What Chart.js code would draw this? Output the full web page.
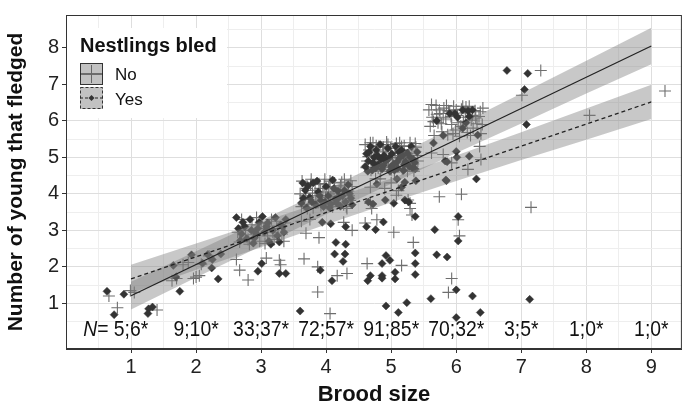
<!DOCTYPE html>
<html>
<head>
<meta charset="utf-8">
<script src="https://cdn.jsdelivr.net/npm/chart.js@4.4.0/dist/chart.umd.min.js"></script>
<style>
  body { margin: 0; background: #fff; }
  #wrap { width: 689px; height: 408px; }
</style>
</head>
<body>
<div id="wrap"><canvas id="brood" width="689" height="408"></canvas></div>
<script>
var family = '"Liberation Sans", Arial, sans-serif';

// tick labels
var xTicks = [1, 2, 3, 4, 5, 6, 7, 8, 9];
var yTicks = [1, 2, 3, 4, 5, 6, 7, 8];

// sample sizes per brood size (not bled ; bled)
var nLabels = ["5;6*", "9;10*", "33;37*", "72;57*", "91;85*", "70;32*", "3;5*", "1;0*", "1;0*"];

// fitted lines, read at brood size 1 and 9
var lineX = [1, 9];
var noLine = [1.21, 8.05];
var yesLine = [1.67, 6.52];

// confidence bands, read at each brood size
var bandX = [1, 2, 3, 4, 5, 6, 7, 8, 9];
var noLow = [0.83, 1.71, 2.57, 3.44, 4.28, 5.12, 5.93, 6.75, 7.55];
var noHigh = [1.59, 2.43, 3.27, 4.12, 4.98, 5.86, 6.75, 7.65, 8.55];
var yesLow = [1.28, 1.92, 2.54, 3.16, 3.76, 4.35, 4.93, 5.48, 6.05];
var yesHigh = [2.06, 2.64, 3.22, 3.82, 4.42, 5.05, 5.69, 6.34, 6.99];

// nests, [brood size (jittered), young fledged (jittered)]
var noPoints = [
  [0.66,1.2],[0.79,0.88],[0.99,1.35],[1.05,1.3],[1.4,0.82],
  [1.8,2.06],[1.63,1.62],[1.7,1.68],[1.96,1.68],[2.0,1.72],[2.05,1.76],[2.08,2.07],[2.2,2.3],[1.88,2.12],
  [2.64,2.95],[2.7,3.3],[2.8,2.75],[2.86,3.15],[2.93,3.35],[2.98,2.7],[3.04,3.05],[3.1,2.85],[3.16,3.3],
  [3.2,2.75],[3.26,3.05],[3.32,2.9],[3.37,3.2],[2.76,3.0],[2.9,2.88],[3.0,3.2],[3.13,3.12],[3.24,3.25],
  [2.67,2.68],[3.35,2.7],[2.82,2.62],[3.06,2.64],[2.72,3.12],[3.18,2.95],
  [2.67,1.91],[2.8,1.64],[3.08,2.24],[3.28,2.18],[3.3,2.06],[2.62,2.2],
  [3.6,4.0],[3.63,4.35],[3.66,3.7],[3.7,4.15],[3.73,3.85],[3.77,4.4],[3.8,3.62],[3.83,4.1],[3.86,3.95],
  [3.89,4.28],[3.92,3.68],[3.95,4.05],[3.98,4.4],[4.01,3.8],[4.04,4.18],[4.07,3.92],[4.1,3.65],[4.13,4.3],
  [4.16,4.0],[4.19,3.75],[4.22,4.22],[4.25,3.88],[4.28,4.4],[4.31,3.65],[4.34,4.08],[4.37,3.82],[4.4,4.2],
  [3.68,3.95],[3.76,4.25],[3.84,3.78],[3.91,4.15],[3.99,3.9],[4.06,4.35],[4.12,3.85],[4.2,4.1],[4.27,3.7],
  [4.35,3.95],[3.62,3.65],[3.97,4.25],[4.24,4.32],[3.79,4.02],[4.09,4.05],[4.32,3.6],[4.38,4.36],[3.71,3.6],
  [3.69,2.92],[3.89,2.8],[3.66,2.22],[3.87,2.0],[4.17,1.76],[4.32,1.82],[3.87,1.31],[4.06,0.72],
  [4.27,3.22],[3.62,3.25],[4.4,3.0],[3.75,3.3],
  [4.6,5.35],[4.63,4.9],[4.66,5.2],[4.69,4.65],[4.72,5.4],[4.75,5.05],[4.78,4.8],[4.81,5.3],[4.84,4.62],
  [4.87,5.15],[4.9,4.95],[4.93,5.42],[4.96,4.72],[4.99,5.25],[5.02,5.0],[5.05,4.6],[5.08,5.38],[5.11,4.85],
  [5.14,5.18],[5.17,4.68],[5.2,5.32],[5.23,4.98],[5.26,4.78],[5.29,5.4],[5.32,5.1],[5.35,4.62],[5.38,5.28],
  [5.41,4.9],[4.62,4.72],[4.7,5.12],[4.77,5.32],[4.85,4.88],[4.92,5.2],[5.0,4.66],[5.06,5.12],[5.13,5.4],
  [5.19,4.92],[5.27,5.2],[5.34,4.82],[5.4,5.05],[4.65,5.02],[4.8,4.7],[4.95,5.35],[5.1,5.05],[5.25,4.62],
  [5.37,5.38],[4.74,4.85],[4.88,5.28],[5.03,4.8],[5.16,5.3],[5.3,4.92],[4.68,5.4],[5.21,4.75],
  [4.76,4.41],[4.68,4.18],[4.83,4.41],[5.11,4.09],[5.08,3.96],[5.26,3.83],[5.29,3.74],[5.32,3.42],
  [4.68,3.74],[4.7,3.6],[4.6,3.2],[4.78,3.29],[5.04,2.95],[5.34,2.67],[4.63,2.09],[5.16,2.04],
  [5.29,3.6],[5.0,4.3],[4.9,4.15],
  [5.58,6.3],[5.6,5.85],[5.63,6.1],[5.66,5.6],[5.69,6.42],[5.72,5.95],[5.75,6.2],[5.78,5.7],[5.81,6.35],
  [5.84,6.05],[5.87,5.62],[5.9,6.25],[5.93,5.9],[5.96,6.4],[5.99,5.75],[6.02,6.15],[6.05,5.58],[6.08,6.32],
  [6.11,5.98],[6.14,6.22],[6.17,5.68],[6.2,6.4],[6.23,6.02],[6.26,5.8],[6.29,6.28],[6.32,5.92],[6.35,6.12],
  [6.38,5.65],[6.41,6.35],[5.62,6.45],[5.7,6.18],[5.77,5.92],[5.85,6.42],[5.92,6.12],[6.0,6.3],[6.07,5.85],
  [6.15,6.38],[6.22,5.6],[6.3,6.08],[6.37,6.25],[5.65,5.98],[5.8,6.1],[5.95,5.65],[6.1,6.4],[6.25,6.15],
  [6.4,5.9],[5.74,6.3],[6.03,5.95],[6.18,6.1],[5.88,6.28],
  [5.62,5.12],[5.8,5.08],[6.36,5.3],[6.38,4.94],[6.18,4.67],[5.93,4.85],[5.74,3.92],[6.08,3.99],
  [6.03,3.29],[6.05,2.85],[5.93,1.68],[5.88,1.3],
  [7.3,7.38],[7.01,6.7],[7.15,3.63],
  [8.05,6.15],
  [9.21,6.82]
];

var yesPoints = [
  [0.63,1.33],[0.74,0.69],[0.89,1.25],[1.27,0.85],[1.26,0.72],[1.33,0.9],
  [1.65,2.04],[1.93,2.33],[2.18,2.34],[2.25,2.2],[2.38,2.35],[2.24,1.97],[2.34,1.67],[1.75,1.33],[1.69,1.72],[2.1,2.1],
  [2.62,3.35],[2.7,2.9],[2.75,3.1],[2.68,2.72],[2.83,3.3],[2.9,2.8],[2.95,3.05],[2.88,2.65],[3.02,3.38],
  [3.05,2.95],[3.1,3.2],[3.12,2.7],[3.18,3.0],[3.22,3.35],[3.25,2.85],[3.3,3.15],[3.35,2.95],[3.38,3.3],
  [2.78,2.78],[2.97,3.22],[3.15,2.62],[2.65,3.05],[3.28,2.68],[2.85,3.0],[3.08,3.1],[2.72,3.22],[3.33,3.1],[2.92,2.92],
  [3.01,2.09],[2.95,1.88],[3.28,1.82],[3.38,1.82],
  [3.62,3.75],[3.68,4.1],[3.7,3.62],[3.75,3.9],[3.8,4.3],[3.84,3.7],[3.88,4.05],[3.92,3.82],[3.96,3.65],
  [4.0,4.2],[4.03,3.95],[4.07,3.72],[4.1,4.38],[4.14,3.85],[4.18,4.08],[4.22,3.66],[4.25,3.95],[4.3,3.78],
  [4.34,4.25],[4.38,3.88],[4.4,3.7],[3.65,3.88],[3.78,3.78],[3.9,3.95],[4.05,3.62],[4.16,3.75],[4.28,4.1],
  [4.36,4.0],[3.72,4.22],[3.98,3.78],[4.2,3.9],[3.86,4.35],[4.12,4.15],[3.64,4.3],
  [3.94,3.22],[4.07,3.18],[4.3,3.1],[4.15,2.67],[4.3,2.62],[4.13,2.35],[4.29,2.35],[4.26,2.15],
  [3.91,1.91],[4.09,1.62],[3.6,0.79],
  [4.6,4.75],[4.62,5.1],[4.65,4.9],[4.68,5.3],[4.71,4.65],[4.74,5.0],[4.77,5.2],[4.8,4.8],[4.83,5.35],
  [4.86,4.68],[4.89,5.05],[4.92,4.9],[4.95,5.25],[4.98,4.62],[5.01,5.1],[5.04,4.82],[5.07,5.3],[5.1,4.7],
  [5.13,4.98],[5.16,5.2],[5.19,4.64],[5.22,4.88],[5.25,5.12],[5.28,4.75],[5.31,5.3],[5.34,4.95],[5.37,4.68],
  [5.4,5.15],[4.64,4.62],[4.72,4.85],[4.79,5.05],[4.88,4.78],[4.97,4.98],[5.05,4.65],[5.12,5.15],[5.2,4.8],
  [5.29,5.0],[5.36,4.85],[4.66,5.15],[4.84,4.95],[5.0,4.75],[5.18,5.05],[5.33,4.7],[4.76,4.7],[5.09,4.88],
  [4.62,3.1],[4.76,3.02],[4.88,3.23],[4.92,2.31],[4.98,2.18],[4.86,2.09],[5.06,1.85],[4.68,1.76],[4.86,1.76],
  [4.64,1.62],[4.86,1.69],[5.06,1.67],[5.37,2.38],[5.37,2.09],[5.37,1.79],[4.92,0.93],[5.11,0.75],[5.24,1.02],
  [5.04,3.74],[5.16,4.18],[5.21,3.83],[5.37,3.38],[4.91,3.83],[5.38,4.36],[5.09,4.41],[5.21,4.32],
  [5.27,3.78],[4.78,4.27],[4.65,3.78],[4.72,3.72],
  [5.65,5.39],[6.33,5.61],[5.7,6.0],[5.9,6.2],[6.1,5.8],[6.25,6.3],[5.8,5.6],[6.02,6.1],[6.15,5.95],
  [5.98,6.2],[6.1,6.3],[6.18,6.28],[6.2,6.12],
  [6.2,5.03],[6.01,5.0],[5.83,4.9],[5.86,4.88],[5.85,4.36],[6.31,4.41],[6.0,5.16],[5.84,4.38],
  [6.03,3.38],[5.67,3.02],[6.03,2.71],[5.7,2.33],[5.86,2.27],[6.0,1.37],[5.61,1.13],[6.25,1.2],[6.0,0.61],[6.37,0.75],
  [6.78,7.38],[7.1,7.3],[7.05,6.86],[7.08,5.9],[7.13,1.11]
];

function toXY(xs, ys) {
  return xs.map(function (x, i) { return { x: x, y: ys[i] }; });
}
function pairs(list) {
  return list.map(function (p) { return { x: p[0], y: p[1] }; });
}
function halfSteps(from, to) {
  var t = [];
  for (var v = from; v <= to; v += 0.5) t.push({ value: v });
  return t;
}

var bandFill = 'rgba(125,125,125,0.42)';
var squeeze = 0.88; // the sample size text is set narrow

var overlay = {
  id: 'overlay',
  afterDatasetsDraw: function (chart) {
    var ctx = chart.ctx, a = chart.chartArea;
    var xs = chart.scales.x, ys = chart.scales.y;
    ctx.save();

    // sample size row
    var ny = ys.getPixelForValue(0.28);
    ctx.fillStyle = '#111';
    ctx.font = '22px ' + family;
    ctx.textBaseline = 'middle';
    ctx.textAlign = 'center';
    nLabels.forEach(function (t, i) {
      ctx.save();
      ctx.translate(xs.getPixelForValue(xTicks[i]), ny);
      ctx.scale(squeeze, 1);
      ctx.fillText(t, 0, 0);
      ctx.restore();
    });
    var start = xs.getPixelForValue(xTicks[0]) - ctx.measureText(nLabels[0]).width * squeeze / 2;
    var eqW = ctx.measureText('= ').width;
    ctx.save();
    ctx.translate(start, ny);
    ctx.scale(squeeze, 1);
    ctx.textAlign = 'right';
    ctx.fillText('= ', 0, 0);
    ctx.font = 'italic 22px ' + family;
    ctx.fillText('N', -eqW, 0);
    ctx.restore();

    // legend
    var lx = a.left + 1, ly = a.top + 13;
    ctx.fillStyle = '#fff';
    ctx.fillRect(lx, ly, 160, 90);
    ctx.fillStyle = '#111';
    ctx.textAlign = 'left';
    ctx.textBaseline = 'alphabetic';
    ctx.font = 'bold 20px ' + family;
    ctx.fillText('Nestlings bled', lx + 13, ly + 24);

    function key(y, dashed) {
      var kx = lx + 13, kw = 23, kh = 22;
      ctx.fillStyle = '#c2c2c2';
      ctx.fillRect(kx, y, kw, kh);
      ctx.strokeStyle = '#333';
      ctx.lineWidth = 1;
      ctx.setLineDash(dashed ? [3, 2] : []);
      ctx.strokeRect(kx + 0.5, y + 0.5, kw - 1, kh - 1);
      ctx.beginPath();
      ctx.moveTo(kx, y + kh / 2);
      ctx.lineTo(kx + kw, y + kh / 2);
      ctx.strokeStyle = '#222';
      ctx.stroke();
      ctx.setLineDash([]);
      var cx = kx + kw / 2, cy = y + kh / 2;
      if (!dashed) {
        ctx.strokeStyle = '#666';
        ctx.beginPath();
        ctx.moveTo(cx - 9, cy); ctx.lineTo(cx + 9, cy);
        ctx.moveTo(cx, cy - 9); ctx.lineTo(cx, cy + 9);
        ctx.stroke();
      } else {
        ctx.fillStyle = '#333';
        ctx.beginPath();
        ctx.moveTo(cx, cy - 3); ctx.lineTo(cx + 3, cy);
        ctx.lineTo(cx, cy + 3); ctx.lineTo(cx - 3, cy);
        ctx.closePath();
        ctx.fill();
      }
    }
    key(ly + 35, false);
    key(ly + 59, true);
    ctx.fillStyle = '#111';
    ctx.font = '17px ' + family;
    ctx.fillText('No', lx + 48, ly + 52);
    ctx.fillText('Yes', lx + 48, ly + 77);

    // panel border
    ctx.strokeStyle = '#333';
    ctx.lineWidth = 1;
    ctx.strokeRect(a.left + 0.5, a.top + 0.5, a.right - a.left - 1, a.bottom - a.top - 1);
    ctx.restore();
  }
};

function gridColor(c) {
  return c.tick && Number.isInteger(c.tick.value) ? '#dedede' : '#eeeeee';
}
function tickColor(c) {
  return c.tick && Number.isInteger(c.tick.value) ? '#333' : 'rgba(0,0,0,0)';
}

new Chart(document.getElementById('brood'), {
  type: 'scatter',
  data: {
    datasets: [
      { type: 'line', data: toXY(bandX, noLow), borderColor: 'rgba(0,0,0,0)', borderWidth: 0, pointRadius: 0, fill: false, order: 5 },
      { type: 'line', data: toXY(bandX, noHigh), borderColor: 'rgba(0,0,0,0)', borderWidth: 0, pointRadius: 0, fill: '-1', backgroundColor: bandFill, order: 5 },
      { type: 'line', data: toXY(bandX, yesLow), borderColor: 'rgba(0,0,0,0)', borderWidth: 0, pointRadius: 0, fill: false, order: 5 },
      { type: 'line', data: toXY(bandX, yesHigh), borderColor: 'rgba(0,0,0,0)', borderWidth: 0, pointRadius: 0, fill: '-1', backgroundColor: bandFill, order: 5 },
      { label: 'No', data: pairs(noPoints), pointStyle: 'cross', pointRadius: 6, pointBorderColor: '#6e6e6e', pointBorderWidth: 1.1, order: 10 },
      { label: 'Yes', data: pairs(yesPoints), pointStyle: 'rectRot', pointRadius: 4, pointBackgroundColor: '#333', pointBorderColor: '#333', pointBorderWidth: 0.5, order: 9 },
      { type: 'line', data: toXY(lineX, noLine), borderColor: '#222', borderWidth: 1.2, pointRadius: 0, fill: false, order: 1 },
      { type: 'line', data: toXY(lineX, yesLine), borderColor: '#222', borderWidth: 1.3, borderDash: [4, 3], pointRadius: 0, fill: false, order: 1 }
    ]
  },
  options: {
    responsive: false,
    animation: false,
    devicePixelRatio: 1,
    events: [],
    layout: { padding: { top: 7, right: 1, left: 0, bottom: 0 } },
    plugins: { legend: { display: false }, tooltip: { enabled: false } },
    scales: {
      x: {
        type: 'linear', min: 0, max: 9.47,
        afterBuildTicks: function (s) { s.ticks = halfSteps(0.5, 9); },
        afterFit: function (s) { s.height = 59; },
        grid: { color: gridColor, lineWidth: 1, tickLength: 4, tickColor: tickColor },
        border: { display: true, color: '#333', width: 1 },
        ticks: {
          autoSkip: false, maxRotation: 0, padding: 2, color: '#222',
          font: { size: 20, family: family },
          callback: function (v) { return xTicks.indexOf(v) >= 0 ? String(v) : ''; }
        },
        title: { display: true, text: 'Brood size', color: '#111', font: { size: 22, weight: 'bold', family: family }, padding: { top: 0, bottom: 0 } }
      },
      y: {
        type: 'linear', min: -0.25, max: 8.9,
        afterBuildTicks: function (s) { s.ticks = halfSteps(0.5, 8.5); },
        afterFit: function (s) { s.width = 66; },
        grid: { color: gridColor, lineWidth: 1, tickLength: 4, tickColor: tickColor },
        border: { display: true, color: '#333', width: 1 },
        ticks: {
          autoSkip: false, padding: 3, color: '#222',
          font: { size: 20, family: family },
          callback: function (v) { return yTicks.indexOf(v) >= 0 ? String(v) : ''; }
        },
        title: { display: true, text: 'Number of young that fledged', color: '#111', font: { size: 21, weight: 'bold', family: family }, padding: { top: 4, bottom: 0 } }
      }
    }
  },
  plugins: [overlay]
});
</script>
</body>
</html>
